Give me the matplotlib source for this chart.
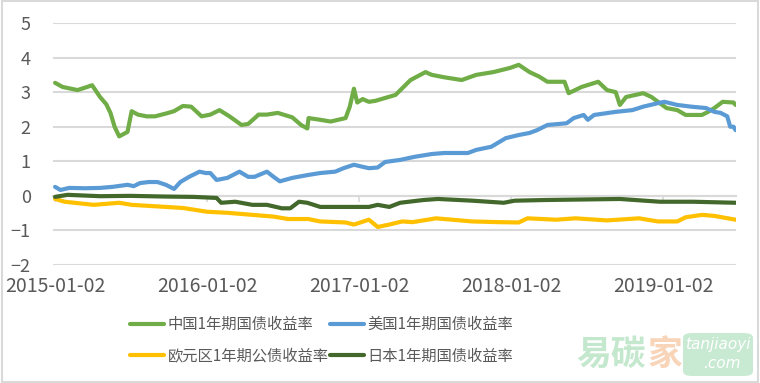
import matplotlib
matplotlib.use('Agg')
import matplotlib.pyplot as plt
import matplotlib.dates as mdates
from matplotlib.patches import FancyBboxPatch, Rectangle
from matplotlib.font_manager import FontProperties
import pandas as pd

plt.rcParams['font.family'] = ['Noto Sans CJK SC', 'DejaVu Sans']

# 中国1年期国债收益率
cn_dates = ['2015-01-02', '2015-01-20', '2015-02-25', '2015-03-20', '2015-04-01', '2015-04-20',
            '2015-05-05', '2015-05-15', '2015-05-25', '2015-06-05', '2015-06-25', '2015-07-05',
            '2015-07-20', '2015-08-10', '2015-08-30', '2015-09-25', '2015-10-15', '2015-11-05',
            '2015-11-25', '2015-12-20', '2016-01-10', '2016-02-01', '2016-02-25', '2016-03-25',
            '2016-04-10', '2016-05-05', '2016-05-25', '2016-06-20', '2016-07-25', '2016-08-15',
            '2016-08-30', '2016-09-02', '2016-09-30', '2016-10-25', '2016-11-30', '2016-12-10',
            '2016-12-20', '2016-12-28', '2017-01-10', '2017-01-25', '2017-02-10', '2017-03-30',
            '2017-05-05', '2017-06-10', '2017-06-25', '2017-07-25', '2017-09-05', '2017-10-10',
            '2017-11-20', '2017-12-30', '2018-01-20', '2018-02-15', '2018-03-10', '2018-03-30',
            '2018-05-10', '2018-05-20', '2018-06-20', '2018-07-30', '2018-08-20', '2018-09-10',
            '2018-09-20', '2018-10-05', '2018-11-15', '2018-12-05', '2018-12-15', '2019-01-10',
            '2019-02-05', '2019-02-25', '2019-04-05', '2019-04-20', '2019-05-05', '2019-05-25',
            '2019-06-20', '2019-06-25']
cn_vals = [3.27, 3.15, 3.06, 3.15, 3.2, 2.86,
           2.65, 2.4, 2.0, 1.72, 1.85, 2.45,
           2.35, 2.3, 2.3, 2.38, 2.45, 2.6,
           2.58, 2.3, 2.35, 2.48, 2.3, 2.05,
           2.08, 2.35, 2.35, 2.4, 2.27, 2.05,
           1.95, 2.25, 2.2, 2.15, 2.25, 2.58,
           3.1, 2.7, 2.8, 2.72, 2.75, 2.92,
           3.35, 3.58, 3.5, 3.43, 3.35, 3.5,
           3.58, 3.7, 3.79, 3.58, 3.45, 3.3,
           3.3, 2.97, 3.15, 3.3, 3.06, 3.0,
           2.63, 2.86, 2.97, 2.86, 2.77, 2.54,
           2.48, 2.34, 2.34, 2.43, 2.54, 2.72,
           2.7, 2.63]

# 美国1年期国债收益率
us_dates = ['2015-01-02', '2015-01-15', '2015-02-05', '2015-03-15', '2015-04-20', '2015-05-20',
            '2015-06-25', '2015-07-10', '2015-07-25', '2015-08-15', '2015-09-05', '2015-09-25',
            '2015-10-15', '2015-10-30', '2015-11-20', '2015-12-15', '2015-12-30', '2016-01-10',
            '2016-01-25', '2016-02-20', '2016-03-20', '2016-04-10', '2016-04-25', '2016-05-25',
            '2016-06-10', '2016-06-25', '2016-07-25', '2016-08-30', '2016-09-30', '2016-11-05',
            '2016-11-25', '2016-12-20', '2017-01-10', '2017-01-25', '2017-02-15', '2017-03-05',
            '2017-04-10', '2017-05-15', '2017-06-25', '2017-07-25', '2017-09-20', '2017-10-10',
            '2017-11-15', '2017-12-20', '2018-01-20', '2018-02-15', '2018-03-05', '2018-03-30',
            '2018-05-15', '2018-06-01', '2018-06-25', '2018-07-05', '2018-07-20', '2018-09-10',
            '2018-10-20', '2018-11-15', '2018-12-20', '2019-01-05', '2019-02-05', '2019-03-10',
            '2019-04-15', '2019-05-05', '2019-05-20', '2019-06-05', '2019-06-12', '2019-06-20',
            '2019-06-25']
us_vals = [0.26, 0.17, 0.23, 0.22, 0.23, 0.26,
           0.32, 0.28, 0.37, 0.4, 0.4, 0.32,
           0.2, 0.4, 0.55, 0.7, 0.66, 0.66,
           0.46, 0.52, 0.7, 0.55, 0.55, 0.7,
           0.55, 0.42, 0.52, 0.6, 0.66, 0.7,
           0.8, 0.9, 0.84, 0.8, 0.82, 0.98,
           1.04, 1.13, 1.21, 1.24, 1.24, 1.33,
           1.42, 1.67, 1.76, 1.82, 1.9, 2.05,
           2.1, 2.25, 2.34, 2.2, 2.34, 2.43,
           2.48, 2.58, 2.68, 2.72, 2.63, 2.58,
           2.54, 2.43, 2.4, 2.3, 2.0, 2.0,
           1.9]

# 欧元区1年期公债收益率
eu_dates = ['2015-01-02', '2015-01-25', '2015-04-05', '2015-06-05', '2015-07-05', '2015-09-25',
            '2015-11-05', '2016-01-02', '2016-02-20', '2016-04-20', '2016-06-10', '2016-07-15',
            '2016-09-01', '2016-09-30', '2016-11-30', '2016-12-20', '2017-01-25', '2017-02-15',
            '2017-03-15', '2017-04-15', '2017-05-10', '2017-06-05', '2017-07-05', '2017-09-30',
            '2017-12-01', '2018-01-20', '2018-02-10', '2018-04-20', '2018-06-05', '2018-08-20',
            '2018-11-05', '2018-12-20', '2019-02-05', '2019-02-25', '2019-04-05', '2019-05-05',
            '2019-06-25']
eu_vals = [-0.09, -0.17, -0.26, -0.2, -0.26, -0.32,
           -0.35, -0.46, -0.49, -0.55, -0.6, -0.67,
           -0.67, -0.74, -0.77, -0.83, -0.69, -0.9,
           -0.83, -0.74, -0.76, -0.71, -0.65, -0.74,
           -0.76, -0.77, -0.65, -0.69, -0.65, -0.71,
           -0.65, -0.74, -0.74, -0.62, -0.55, -0.58,
           -0.69]

# 日本1年期国债收益率
jp_dates = ['2015-01-02', '2015-02-01', '2015-04-20', '2015-07-01', '2015-09-25', '2015-12-01',
            '2016-01-25', '2016-02-05', '2016-03-10', '2016-04-20', '2016-05-25', '2016-06-30',
            '2016-07-20', '2016-08-10', '2016-08-30', '2016-09-30', '2016-11-05', '2017-01-25',
            '2017-02-15', '2017-03-15', '2017-04-10', '2017-06-05', '2017-07-10', '2017-10-01',
            '2017-12-15', '2018-01-10', '2018-03-25', '2018-09-20', '2018-12-25', '2019-03-15',
            '2019-06-25']
jp_vals = [-0.03, 0.03, -0.01, 0.0, -0.02, -0.03,
           -0.06, -0.2, -0.17, -0.26, -0.26, -0.36,
           -0.36, -0.17, -0.2, -0.32, -0.32, -0.32,
           -0.26, -0.32, -0.2, -0.12, -0.09, -0.14,
           -0.2, -0.14, -0.12, -0.09, -0.17, -0.17,
           -0.2]

tick_dates = ['2015-01-02', '2016-01-02', '2017-01-02', '2018-01-02', '2019-01-02']
y_ticks = [-2, -1, 0, 1, 2, 3, 4, 5]

grid_c = '#D9D9D9'
text_c = '#595959'

fig = plt.figure(figsize=(7.6, 3.83), dpi=100)
ax = fig.add_axes([53 / 760, 1 - 265 / 383, (736 - 53) / 760, (265 - 23) / 383])

# 画四条收益率曲线
series = [
    (cn_dates, cn_vals, '#70AD47', '中国1年期国债收益率'),
    (eu_dates, eu_vals, '#FFC000', '欧元区1年期公债收益率'),
    (us_dates, us_vals, '#5B9BD5', '美国1年期国债收益率'),
    (jp_dates, jp_vals, '#43682B', '日本1年期国债收益率'),
]
handles = []
for d, v, c, lab in series:
    ln, = ax.plot(pd.to_datetime(d), v, color=c, lw=3, solid_capstyle='round',
                  solid_joinstyle='round', label=lab, zorder=3)
    handles.append(ln)

ax.set_ylim(-2, 5)
ax.set_xlim(pd.Timestamp('2014-12-28'), pd.Timestamp('2019-06-26'))
ax.set_yticks(y_ticks)
ax.yaxis.grid(True, color=grid_c, lw=1.5)
ax.set_axisbelow(True)
for s in ax.spines.values():
    s.set_visible(False)
ax.tick_params(axis='y', length=0, pad=16, labelsize=13, labelcolor=text_c)

ticks = pd.to_datetime(tick_dates)
ax.set_xticks(ticks)
ax.xaxis.set_major_formatter(mdates.DateFormatter('%Y-%m-%d'))
ax.tick_params(axis='x', length=0, pad=8, labelsize=14, labelcolor=text_c)

# 0 位置的横轴和刻度
sec = ax.secondary_xaxis(2 / 7)
sec.set_xticks(ticks)
sec.set_xticklabels([])
sec.tick_params(length=4, color=grid_c, width=1.2)
sec.spines['bottom'].set_color(grid_c)
sec.spines['bottom'].set_linewidth(1.5)

leg_font = FontProperties(family='Noto Sans CJK SC', size=11)
leg = fig.legend(handles=handles, loc='upper left', bbox_to_anchor=(130 / 760, 1 - 316 / 383),
                 ncol=2, frameon=False, prop=leg_font, handlelength=2.2, handletextpad=0.25,
                 columnspacing=0.1, labelspacing=0.95, borderpad=0, borderaxespad=0)
for t in leg.get_texts():
    t.set_color(text_c)

# 水印
fig.text(576 / 760, 1 - 354 / 383, '易碳', fontsize=25, fontweight='bold', color='#9ED9AE',
         alpha=0.6, ha='left', va='center', zorder=10)
fig.text(647 / 760, 1 - 354 / 383, '家', fontsize=25, fontweight='bold', color='#F4B88A',
         alpha=0.6, ha='left', va='center', zorder=10)
box = FancyBboxPatch((683 / 760, 1 - 376 / 383), 70 / 760, 43 / 383,
                     boxstyle='round,pad=0,rounding_size=0.012', transform=fig.transFigure,
                     fc='#B8E4C4', ec='none', alpha=0.75, zorder=9)
fig.patches.append(box)
fig.text(718 / 760, 1 - 345 / 383, 'tanjiaoyi', fontsize=11, style='italic', color='white',
         ha='center', va='center', family='DejaVu Sans', zorder=11)
fig.text(722 / 760, 1 - 364 / 383, '.com', fontsize=11, style='italic', color='white',
         ha='center', va='center', family='DejaVu Sans', zorder=11)

# 图表外框
fig.patches.append(Rectangle((0.002, 0.003), 0.995, 0.994, transform=fig.transFigure,
                             fill=False, ec=grid_c, lw=1.5))

fig.savefig('out.png', dpi=100)
